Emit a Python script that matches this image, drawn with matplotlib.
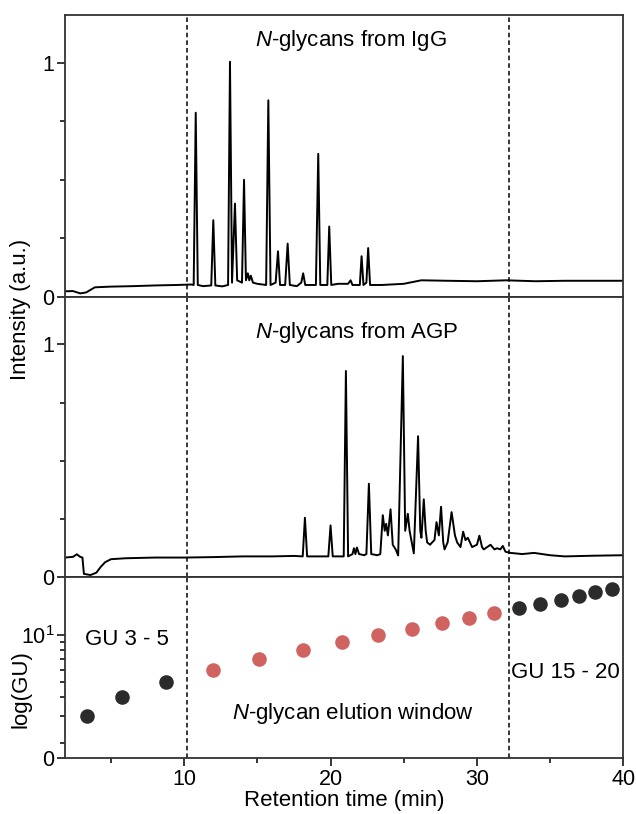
import matplotlib
matplotlib.use('Agg')
import matplotlib.pyplot as plt
from matplotlib.ticker import FixedLocator, NullFormatter

plt.rcParams['font.family'] = ['Liberation Sans', 'DejaVu Sans']
plt.rcParams['mathtext.fontset'] = 'custom'
plt.rcParams['mathtext.rm'] = 'Liberation Sans'
plt.rcParams['mathtext.it'] = 'Liberation Sans:italic'

# IgG chromatogram, vertices (min, a.u.)
igg_t = [1.85, 2.4, 2.9, 3.3, 3.9, 5.0, 6.5, 8.0, 9.5, 10.5, 10.65, 10.79, 10.93,
         11.3, 11.85, 11.99, 12.13, 12.6, 13.0, 13.13, 13.27, 13.47, 13.62, 13.95,
         14.09, 14.22, 14.35, 14.45, 14.55, 14.7, 15.0, 15.6, 15.75, 15.9, 16.25,
         16.41, 16.55, 16.9, 17.07, 17.22, 17.7, 18.0, 18.13, 18.27, 19.0, 19.16,
         19.3, 19.78, 19.91, 20.05, 20.5, 21.2, 21.37, 21.5, 22.0, 22.12, 22.25,
         22.45, 22.57, 22.7, 23.5, 25.0, 26.2, 28.0, 30.0, 32.0, 34.0, 36.0, 38.0, 40.0]
igg_y = [0.023, 0.024, 0.014, 0.018, 0.040, 0.043, 0.045, 0.048, 0.050, 0.052, 0.050,
         0.787, 0.050, 0.045, 0.048, 0.327, 0.048, 0.044, 0.050, 1.005, 0.060, 0.398,
         0.070, 0.060, 0.500, 0.070, 0.100, 0.070, 0.090, 0.060, 0.055, 0.050, 0.840,
         0.050, 0.060, 0.194, 0.050, 0.050, 0.227, 0.050, 0.045, 0.060, 0.100, 0.050,
         0.050, 0.611, 0.050, 0.050, 0.300, 0.050, 0.055, 0.055, 0.070, 0.050, 0.050,
         0.173, 0.050, 0.060, 0.208, 0.050, 0.050, 0.055, 0.070, 0.068, 0.066, 0.070,
         0.066, 0.068, 0.068, 0.068]

# AGP chromatogram
agp_t = [1.85, 2.4, 2.67, 2.9, 3.05, 3.15, 3.6, 4.0, 4.3, 4.6, 5.0, 6.0, 8.0, 10.0,
         12.0, 14.0, 16.0, 17.5, 18.1, 18.25, 18.4, 19.85, 20.0, 20.15, 20.9, 21.05,
         21.2, 21.5, 21.6, 21.7, 21.8, 21.95, 22.3, 22.45, 22.62, 22.78, 23.2, 23.4,
         23.57, 23.7, 23.8, 23.92, 24.1, 24.25, 24.45, 24.62, 24.94, 25.1, 25.28, 25.4,
         25.55, 25.69, 25.98, 26.13, 26.21, 26.37, 26.5, 26.6, 26.8, 26.94, 27.1, 27.24,
         27.4, 27.55, 27.7, 27.79, 28.0, 28.27, 28.5, 28.65, 28.88, 29.06, 29.22, 29.38,
         29.67, 30.0, 30.17, 30.35, 30.47, 30.93, 31.2, 31.38, 31.6, 31.77, 31.95, 32.3,
         33.1, 33.9, 35.0, 36.0, 38.0, 40.0]
agp_y = [0.085, 0.088, 0.099, 0.088, 0.085, 0.015, 0.010, 0.020, 0.045, 0.065, 0.078,
         0.082, 0.085, 0.085, 0.087, 0.090, 0.090, 0.092, 0.090, 0.256, 0.090, 0.090,
         0.223, 0.090, 0.090, 0.886, 0.090, 0.100, 0.125, 0.100, 0.128, 0.100, 0.095,
         0.100, 0.402, 0.100, 0.095, 0.100, 0.267, 0.200, 0.230, 0.180, 0.292, 0.140,
         0.120, 0.094, 0.950, 0.200, 0.273, 0.200, 0.150, 0.103, 0.606, 0.200, 0.170,
         0.335, 0.200, 0.150, 0.140, 0.150, 0.160, 0.237, 0.180, 0.303, 0.150, 0.120,
         0.150, 0.280, 0.180, 0.150, 0.130, 0.196, 0.160, 0.170, 0.130, 0.140, 0.179,
         0.130, 0.120, 0.140, 0.120, 0.125, 0.120, 0.135, 0.110, 0.105, 0.100, 0.105,
         0.095, 0.090, 0.093, 0.095]

# glucose unit ladder
gu_low_t = [3.33, 5.76, 8.76]
gu_low = [3, 4, 5]
gu_mid_t = [11.97, 15.1, 18.1, 20.8, 23.25, 25.56, 27.6, 29.46, 31.19]
gu_mid = [6, 7, 8, 9, 10, 11, 12, 13, 14]
gu_high_t = [32.86, 34.3, 35.73, 36.95, 38.1, 39.26]
gu_high = [15, 16, 17, 18, 19, 20]

window = [10.22, 32.2]

fig = plt.figure(figsize=(6.36, 8.14), dpi=100)
gs = fig.add_gridspec(3, 1, height_ratios=[282, 281, 181], hspace=0,
                      left=0.102, right=0.980, top=0.9816, bottom=0.0686)
ax1 = fig.add_subplot(gs[0])
ax2 = fig.add_subplot(gs[1], sharex=ax1)
ax3 = fig.add_subplot(gs[2], sharex=ax1)

fs = 16
tfs = 15.5
for ax in (ax1, ax2, ax3):
    for s in ax.spines.values():
        s.set_linewidth(1.3)
        s.set_color('#333333')
    ax.tick_params(which='major', direction='out', length=5.5, width=1.1,
                   labelsize=tfs, pad=2)
    ax.tick_params(which='minor', direction='out', length=3.5, width=1.1)
    for x in window:
        ax.axvline(x, color='black', lw=1.1, ls=(0, (3, 2)), zorder=1)

ax1.plot(igg_t, igg_y, color='black', lw=1.4)
ax2.plot(agp_t, agp_y, color='black', lw=1.4)

for ax in (ax1, ax2):
    ax.set_ylim(0, 1.205)
    ax.set_yticks([0, 1])
    ax.set_yticklabels(['0', '1'])
    ax.yaxis.set_minor_locator(FixedLocator([0.25, 0.5, 0.75]))
    ax.tick_params(axis='x', which='both', bottom=False, labelbottom=False)

ax1.set_xlim(1.85, 40)
ax1.text(21.4, 1.097, '$N$-glycans from IgG', ha='center', va='center', fontsize=fs)
ax2.text(21.8, 1.05, '$N$-glycans from AGP', ha='center', va='center', fontsize=fs)

ax3.scatter(gu_low_t, gu_low, s=110, color='#2b2b2b', zorder=3, linewidths=0)
ax3.scatter(gu_mid_t, gu_mid, s=110, color='#d0625f', zorder=3, linewidths=0)
ax3.scatter(gu_high_t, gu_high, s=110, color='#2b2b2b', zorder=3, linewidths=0)
ax3.set_yscale('log')
ax3.set_ylim(1.6, 23.7)
ax3.yaxis.set_major_locator(FixedLocator([1.6, 10]))
ax3.set_yticklabels(['0', '$10^1$'])
ax3.yaxis.set_minor_locator(FixedLocator([2, 3, 4, 5, 6, 7, 8, 9]))
ax3.yaxis.set_minor_formatter(NullFormatter())
ax3.set_xticks([10, 20, 30, 40])
ax3.xaxis.set_minor_locator(FixedLocator([5, 15, 25, 35]))
ax3.set_xlabel('Retention time (min)', fontsize=fs, labelpad=0)
ax3.text(3.23, 9.4, 'GU 3 - 5', ha='left', va='center', fontsize=fs)
ax3.text(32.3, 5.77, 'GU 15 - 20', ha='left', va='center', fontsize=fs)
ax3.text(21.5, 3.13, '$N$-glycan elution window', ha='center', va='center', fontsize=fs)

fig.text(21 / 636, 1 - 309 / 814, 'Intensity (a.u.)', rotation=90, ha='center',
         va='center', fontsize=fs)
fig.text(21 / 636, 1 - 689 / 814, 'log(GU)', rotation=90, ha='center',
         va='center', fontsize=fs)

fig.savefig('out.png', dpi=100)
